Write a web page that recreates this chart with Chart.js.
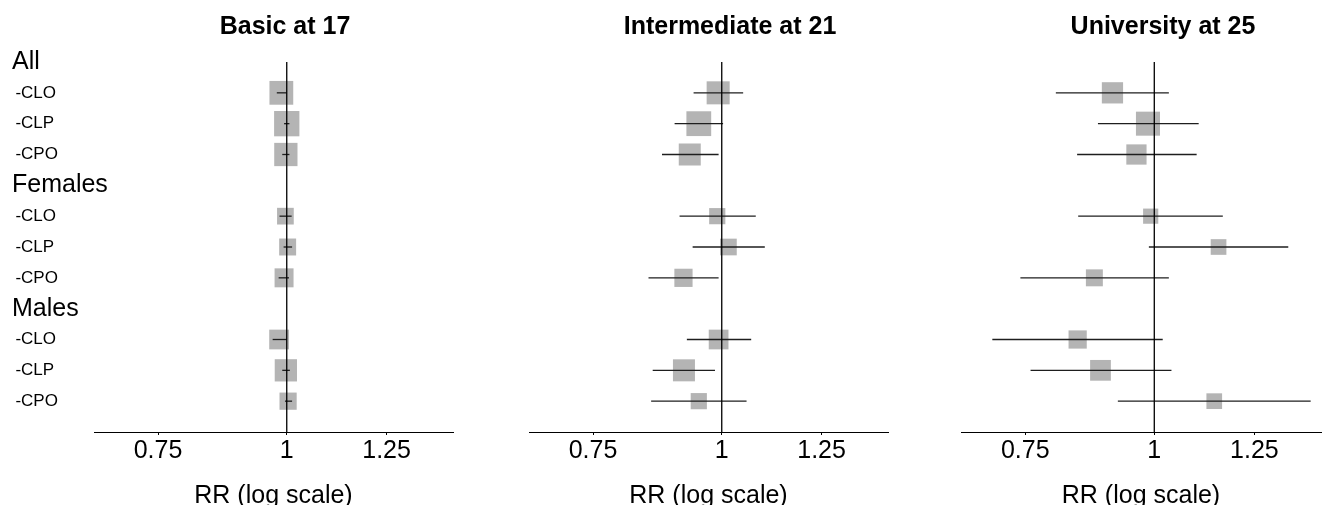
<!DOCTYPE html>
<html>
<head>
<meta charset="utf-8">
<title>Relative risk by education level</title>
<script src="https://cdn.jsdelivr.net/npm/chart.js@4.4.1/dist/chart.umd.min.js"></script>
<style>
  html, body { margin: 0; padding: 0; background: #fff; overflow: hidden; }
  #wrap { position: relative; width: 1324px; height: 505px; }
  #wrap canvas { position: absolute; top: 0; }
  .panel-title {
    position: absolute; top: 10px; width: 400px; margin-left: -200px;
    text-align: center; color: #000;
    font: bold 25px/30px "Liberation Sans", Arial, sans-serif;
  }
</style>
</head>
<body>
<div id="wrap"></div>
<script>
const rowLabels = ["All", "-CLO", "-CLP", "-CPO", "Females", "-CLO", "-CLP", "-CPO", "Males", "-CLO", "-CLP", "-CPO"];
const panelTitles = ["Basic at 17", "Intermediate at 21", "University at 25"];
const xTicks = [0.75, 1, 1.25];

// RR with 95% CI per subgroup row, plus relative study weight (box size)
const basicRR = [0.988, 1.000, 0.998, 0.997, 1.002, 0.994, 0.983, 0.998, 1.003];
const basicLower = [0.978, 0.994, 0.990, 0.984, 0.993, 0.982, 0.969, 0.990, 0.996];
const basicUpper = [1.000, 1.006, 1.006, 1.011, 1.012, 1.005, 1.000, 1.007, 1.012];
const basicWeight = [0.94, 1.00, 0.92, 0.66, 0.67, 0.75, 0.78, 0.88, 0.68];

const interRR = [0.992, 0.950, 0.931, 0.990, 1.015, 0.918, 0.993, 0.919, 0.950];
const interLower = [0.939, 0.900, 0.875, 0.910, 0.937, 0.849, 0.925, 0.857, 0.854];
const interUpper = [1.049, 1.003, 0.993, 1.079, 1.101, 0.993, 1.068, 0.985, 1.057];
const interWeight = [0.91, 0.98, 0.87, 0.64, 0.66, 0.72, 0.78, 0.87, 0.64];

const uniRR = [0.911, 0.986, 0.961, 0.992, 1.154, 0.875, 0.843, 0.887, 1.143];
const uniLower = [0.803, 0.882, 0.842, 0.844, 0.988, 0.742, 0.697, 0.759, 0.922];
const uniUpper = [1.033, 1.104, 1.099, 1.165, 1.348, 1.033, 1.019, 1.039, 1.417];
const uniWeight = [0.84, 0.95, 0.80, 0.60, 0.62, 0.67, 0.72, 0.82, 0.62];

const HEIGHT = 505;
const BOX_MAX = 25.3;       // side of the largest box, px
const BOX_COLOR = "rgb(180, 180, 180)";
const LINE_COLOR = "#1e1e1e";
const LABEL_COL = 94;       // width of the row-label column on the first panel
const LABEL_INSET = 12;

Chart.defaults.font.family = "'Liberation Sans', Arial, sans-serif";
Chart.defaults.color = "#000";

const isHeader = (i) => !String(rowLabels[i] || "").startsWith("-");
const estimateRows = rowLabels.map((l, i) => (isHeader(i) ? -1 : i)).filter((i) => i >= 0);

const panels = [
  { title: panelTitles[0], rr: basicRR, lower: basicLower, upper: basicUpper, weight: basicWeight,
    left: 0, width: 470, padLeft: 0, padRight: 17, titleX: 285, labels: true },
  { title: panelTitles[1], rr: interRR, lower: interLower, upper: interUpper, weight: interWeight,
    left: 470, width: 430, padLeft: 59, padRight: 12, titleX: 730, labels: false },
  { title: panelTitles[2], rr: uniRR, lower: uniLower, upper: uniUpper, weight: uniWeight,
    left: 900, width: 424, padLeft: 61, padRight: 3, titleX: 1163, labels: false },
];

const wrap = document.getElementById("wrap");

function makePanel(p) {
  const canvas = document.createElement("canvas");
  canvas.width = p.width;
  canvas.height = HEIGHT;
  canvas.style.left = p.left + "px";
  wrap.appendChild(canvas);

  const heading = document.createElement("div");
  heading.className = "panel-title";
  heading.style.left = p.titleX + "px";
  heading.textContent = p.title;
  wrap.appendChild(heading);

  // null line at RR = 1, spanning every row
  const refLine = {
    data: [{ x: 1, y: 0 }, { x: 1, y: rowLabels.length }],
    showLine: true, borderColor: "#000", borderWidth: 1.3, pointRadius: 0,
  };

  const ciLines = estimateRows.map((row, i) => ({
    data: [{ x: p.lower[i], y: row }, { x: p.upper[i], y: row }],
    showLine: true, borderColor: LINE_COLOR, borderWidth: 1.3, pointRadius: 0,
  }));

  const boxes = {
    data: estimateRows.map((row, i) => ({ x: p.rr[i], y: row })),
    pointStyle: "rect",
    pointRadius: p.weight.map((w) => (w * BOX_MAX) / (2 * Math.SQRT1_2)),
    backgroundColor: BOX_COLOR,
    borderWidth: 0,
  };

  return new Chart(canvas, {
    type: "scatter",
    data: { datasets: [refLine, ...ciLines, boxes] },
    options: {
      responsive: false,
      animation: false,
      events: [],
      layout: {
        autoPadding: false,
        padding: { top: 62, bottom: 0, left: p.padLeft, right: p.padRight },
      },
      plugins: { legend: { display: false }, tooltip: { enabled: false } },
      scales: {
        x: {
          type: "logarithmic",
          min: 0.65,
          max: 1.45,
          bounds: "data",
          afterBuildTicks: (scale) => { scale.ticks = xTicks.map((v) => ({ value: v })); },
          afterFit: (scale) => { scale.height = 73; },
          ticks: {
            autoSkip: false, maxRotation: 0, padding: 1,
            font: { size: 25 },
            callback: (v) => String(v),
          },
          grid: { drawOnChartArea: false, tickLength: 3, color: "#000" },
          border: { color: "#000", width: 1 },
          title: {
            display: true, text: "RR (log scale)",
            font: { size: 25, lineHeight: 0.68 }, padding: 0,
          },
        },
        y: {
          type: "linear",
          min: 0,
          max: rowLabels.length,
          reverse: true,
          display: p.labels,
          afterBuildTicks: (scale) => { scale.ticks = rowLabels.map((_, i) => ({ value: i })); },
          afterFit: p.labels ? (scale) => { scale.width = LABEL_COL; } : undefined,
          ticks: {
            // mirrored so long group names are not clipped to the axis box
            mirror: true,
            padding: LABEL_INSET - LABEL_COL,
            autoSkip: false,
            callback: (v, i) => (isHeader(i) ? rowLabels[i] : "\u2009" + rowLabels[i]),
            font: (ctx) => ({ size: isHeader(ctx.index) ? 25 : 17 }),
          },
          grid: { display: false },
          border: { display: false },
        },
      },
    },
  });
}

panels.forEach(makePanel);
</script>
</body>
</html>
